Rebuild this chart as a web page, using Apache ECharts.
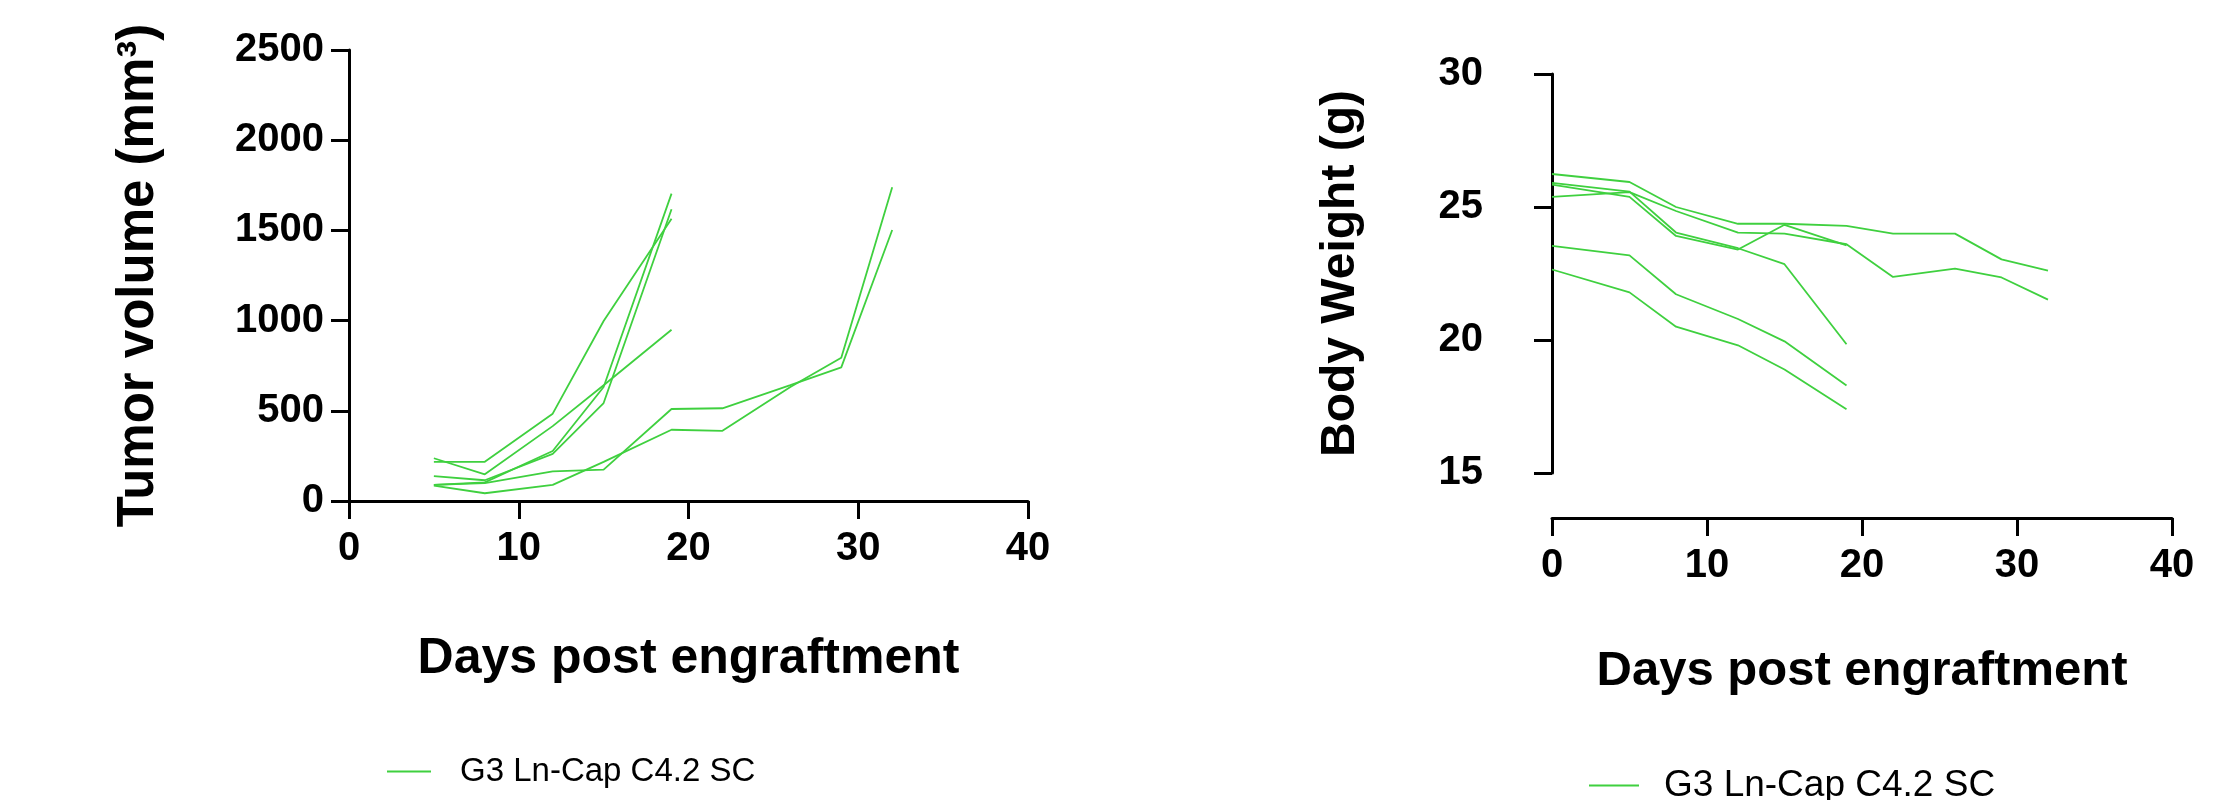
<!DOCTYPE html>
<html>
<head>
<meta charset="utf-8">
<script src="https://cdn.jsdelivr.net/npm/echarts@6/dist/echarts.min.js"></script>
<style>
html,body{margin:0;padding:0;background:#fff;}
#chart{width:2231px;height:800px;}
</style>
</head>
<body>
<div id="chart"></div>
<script>
// ---- data ----
const seriesName = 'G3 Ln-Cap C4.2 SC';
const tumorDays = [5, 8, 12, 15, 19, 22, 26, 29, 32];
const tumorM1 = [217, 217, 484, 998, 1565];
const tumorM2 = [89, 103, 277, 632, 1704];
const tumorM3 = [138, 115, 261, 543, 1617];
const tumorM4 = [237, 148, 415, 642, 949];
const tumorM5 = [85, 43, 89, 217, 395, 389, 632, 794, 1739];
const tumorM6 = [89, 99, 164, 174, 510, 514, 642, 741, 1502];

const weightDays = [0, 5, 8, 12, 15, 19, 22, 26, 29, 32];
const weightM1 = [26.24, 25.94, 25.0, 24.37, 24.37, 24.29, 24.0, 24.0, 23.03, 22.61];
const weightM2 = [25.38, 25.56, 24.85, 24.04, 24.0, 23.6, 22.37, 22.68, 22.35, 21.52];
const weightM3 = [25.91, 25.58, 24.04, 23.45, 22.85, 19.84];
const weightM4 = [23.54, 23.18, 21.72, 20.79, 19.95, 18.29];
const weightM5 = [22.65, 21.79, 20.5, 19.8, 18.89, 17.4];
const weightM6 = [25.84, 25.38, 23.91, 23.4, 24.33, 23.56];

const xTitle = 'Days post engraftment';
const tumorTitle = 'Tumor volume (mm³)';
const weightTitle = 'Body Weight (g)';

// ---- styling ----
const GREEN = '#3fd03f';
const FONT = 'Arial, "Liberation Sans", Helvetica, sans-serif';
const axisLineStyle = {show: true, lineStyle: {color: '#000', width: 3}};
const axisTickStyle = {show: true, length: 18, lineStyle: {color: '#000', width: 3}};
const tickLabel = {color: '#000', fontSize: 40, fontWeight: 'bold', fontFamily: FONT, formatter: v => String(v)};
function titleStyle(size) { return {color: '#000', fontSize: size, fontWeight: 'bold', fontFamily: FONT}; }

function pairs(days, vals) { return vals.map((v, i) => [days[i], v]); }
function lineSeries(days, vals, idx) {
  return {
    name: seriesName, type: 'line', xAxisIndex: idx, yAxisIndex: idx,
    data: pairs(days, vals), showSymbol: false, symbol: 'none',
    lineStyle: {color: GREEN, width: 1.8}, itemStyle: {color: GREEN},
    silent: true, animation: false
  };
}

const tumorSets = [tumorM1, tumorM2, tumorM3, tumorM4, tumorM5, tumorM6];
const weightSets = [weightM1, weightM2, weightM3, weightM4, weightM5, weightM6];

const chart = echarts.init(document.getElementById('chart'), null, {renderer: 'canvas'});
const option = {
  backgroundColor: '#fff',
  animation: false,
  grid: [
    {left: 349, right: 1203, top: 50, bottom: 299},
    {left: 1552, right: 59, top: 74, bottom: 327}
  ],
  xAxis: [
    {
      type: 'value', gridIndex: 0, min: 0, max: 40, interval: 10,
      axisLine: axisLineStyle, axisTick: axisTickStyle, splitLine: {show: false},
      axisLabel: Object.assign({margin: 28}, tickLabel),
      name: xTitle, nameLocation: 'middle', nameGap: 133, nameTextStyle: titleStyle(50)
    },
    {
      type: 'value', gridIndex: 1, min: 0, max: 40, interval: 10, offset: 45,
      axisLine: axisLineStyle, axisTick: axisTickStyle, splitLine: {show: false},
      axisLabel: Object.assign({margin: 28}, tickLabel),
      name: xTitle, nameLocation: 'middle', nameGap: 129, nameTextStyle: titleStyle(49)
    }
  ],
  yAxis: [
    {
      type: 'value', gridIndex: 0, min: 0, max: 2500, interval: 500,
      axisLine: axisLineStyle, axisTick: axisTickStyle, splitLine: {show: false},
      axisLabel: Object.assign({margin: 25}, tickLabel),
      name: tumorTitle, nameLocation: 'middle', nameGap: 185,
      nameTextStyle: titleStyle(51)
    },
    {
      type: 'value', gridIndex: 1, min: 15, max: 30, interval: 5, offset: 44,
      axisLine: axisLineStyle, axisTick: axisTickStyle, splitLine: {show: false},
      axisLabel: Object.assign({margin: 25}, tickLabel),
      name: weightTitle, nameLocation: 'middle', nameGap: 143, nameTextStyle: titleStyle(48)
    }
  ],
  legend: [
    {
      left: 382, top: 750, data: [seriesName], icon: 'rect', itemWidth: 44, itemHeight: 2,
      itemStyle: {color: GREEN}, selectedMode: false,
      textStyle: {color: '#000', fontSize: 33, fontFamily: FONT, padding: [0, 0, 0, 24]}
    },
    {
      left: 1584, top: 762, data: [seriesName], icon: 'rect', itemWidth: 50, itemHeight: 2,
      itemStyle: {color: GREEN}, selectedMode: false,
      textStyle: {color: '#000', fontSize: 37, fontFamily: FONT, padding: [0, 0, 0, 20]}
    }
  ],
  series: [].concat(
    tumorSets.map(v => lineSeries(tumorDays, v, 0)),
    weightSets.map(v => lineSeries(weightDays, v, 1))
  )
};
chart.setOption(option);
</script>
</body>
</html>
